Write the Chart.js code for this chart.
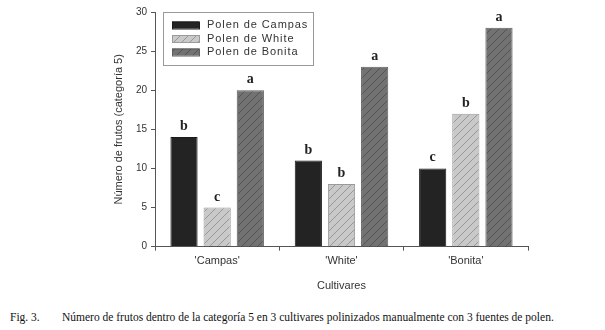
<!DOCTYPE html>
<html>
<head>
<meta charset="utf-8">
<script src="https://cdn.jsdelivr.net/npm/chart.js@4"></script>
<style>
  body { margin: 0; background: #fff; }
  #wrap { position: relative; width: 605px; height: 300px; }
  #caption { font-family: "Liberation Serif", "Times New Roman", serif; font-size: 11.5px; color: #111;
    position: absolute; top: 311px; left: 10px; white-space: nowrap; }
  #caption span { display: inline-block; width: 52px; }
</style>
</head>
<body>
<div id="wrap"><canvas id="c" width="605" height="300"></canvas></div>
<div id="caption"><span>Fig. 3.</span>Número de frutos dentro de la categoría 5 en 3 cultivares polinizados manualmente con 3 fuentes de polen.</div>
<script>
const cultivars = ["'Campas'", "'White'", "'Bonita'"];
const seriesNames = ['Polen de Campas', 'Polen de White', 'Polen de Bonita'];
const campas = [14, 11, 10];
const white = [5, 8, 17];
const bonita = [20, 23, 28];
const letters = [['b', 'b', 'c'], ['c', 'b', 'b'], ['a', 'a', 'a']];

function hatch(fill, line) {
  const c = document.createElement('canvas');
  c.width = 8; c.height = 8;
  const g = c.getContext('2d');
  g.fillStyle = fill; g.fillRect(0, 0, 8, 8);
  g.strokeStyle = line; g.lineWidth = 0.8;
  g.beginPath();
  g.moveTo(0, 8); g.lineTo(8, 0);
  g.moveTo(-4, 4); g.lineTo(4, -4);
  g.moveTo(4, 12); g.lineTo(12, 4);
  g.stroke();
  return g.createPattern(c, 'repeat');
}

const fills = ['#232323', hatch('#c9c9c9', '#8a8a8a'), hatch('#727272', '#4c4c4c')];
const borders = ['#1a1a1a', '#9a9a9a', '#5e5e5e'];

const letterPlugin = {
  id: 'letters',
  afterDatasetsDraw(chart) {
    const ctx = chart.ctx;
    ctx.save();
    ctx.font = 'bold 14px "Liberation Serif", serif';
    ctx.fillStyle = '#222';
    ctx.textAlign = 'center';
    ctx.textBaseline = 'alphabetic';
    chart.data.datasets.forEach((ds, i) => {
      chart.getDatasetMeta(i).data.forEach((bar, j) => {
        ctx.fillText(letters[i][j], bar.x, bar.y - 7);
      });
    });
    ctx.restore();
  }
};

const legendPlugin = {
  id: 'boxLegend',
  afterDraw(chart) {
    const ctx = chart.ctx;
    const a = chart.chartArea;
    const x = a.left + 8, y = 12, w = 150, h = 53;
    ctx.save();
    ctx.strokeStyle = '#999';
    ctx.lineWidth = 1;
    ctx.fillStyle = '#fff';
    ctx.fillRect(x, y, w, h);
    ctx.strokeRect(x + 0.5, y + 0.5, w, h);
    ctx.font = '11px "Liberation Sans", Arial, sans-serif';
    ctx.textBaseline = 'middle';
    seriesNames.forEach((name, i) => {
      const cy = y + 13 + i * 13.5;
      ctx.fillStyle = fills[i];
      ctx.fillRect(x + 9, cy - 3.5, 27, 7);
      ctx.strokeStyle = borders[i];
      ctx.strokeRect(x + 9.5, cy - 3, 27, 7);
      ctx.fillStyle = '#333';
      ctx.fillText(name.split('').join(String.fromCharCode(8202)), x + 44, cy);
    });
    ctx.restore();
  }
};

new Chart(document.getElementById('c'), {
  type: 'bar',
  data: {
    labels: cultivars,
    datasets: [campas, white, bonita].map((d, i) => ({
      label: seriesNames[i],
      data: d,
      backgroundColor: fills[i],
      borderColor: borders[i],
      borderWidth: 1,
      categoryPercentage: 0.8,
      barPercentage: 0.82
    }))
  },
  options: {
    responsive: false,
    animation: false,
    devicePixelRatio: 1,
    layout: { padding: { left: 110, right: 77, top: 12, bottom: 3 } },
    plugins: { legend: { display: false }, tooltip: { enabled: false } },
    scales: {
      x: {
        grid: { display: true, drawOnChartArea: false, tickLength: 4, color: '#555' },
        border: { color: '#555' },
        ticks: { color: '#333', font: { family: '"Liberation Sans", Arial', size: 11 }, padding: 4 },
        title: { display: true, text: 'Cultivares', color: '#333', font: { family: '"Liberation Sans", Arial', size: 11 }, padding: { top: 8 } }
      },
      y: {
        min: 0, max: 30,
        afterFit(s) { s.width = 45; },
        grid: { display: true, drawOnChartArea: false, tickLength: 4, color: '#555' },
        border: { color: '#555' },
        ticks: { stepSize: 5, color: '#333', font: { family: '"Liberation Sans", Arial', size: 10 }, padding: 4 },
        title: { display: true, text: 'Número de frutos (categoría 5)', color: '#333', font: { family: '"Liberation Sans", Arial', size: 11 }, padding: 2 }
      }
    }
  },
  plugins: [letterPlugin, legendPlugin]
});
</script>
</body>
</html>
